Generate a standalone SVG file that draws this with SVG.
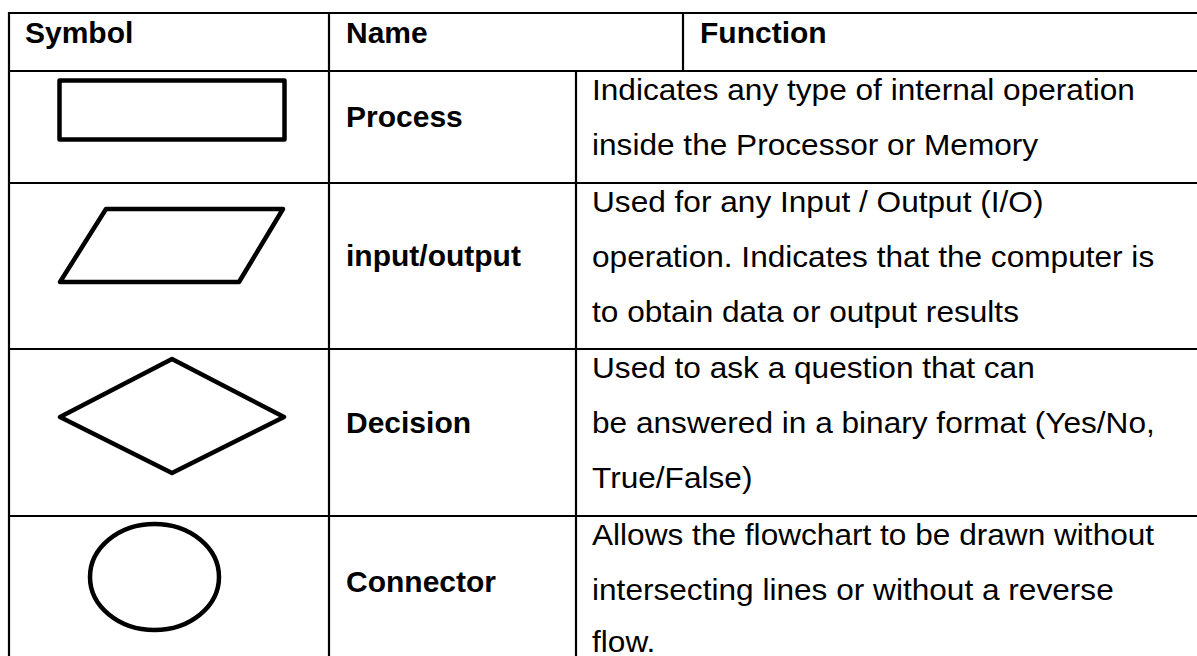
<svg xmlns="http://www.w3.org/2000/svg" width="1197" height="656" viewBox="0 0 1197 656">
  <style>
    .grid { stroke: #000; stroke-width: 2.2; fill: none; }
    .sym { stroke: #000; stroke-width: 4.5; fill: none; stroke-linejoin: round; }
    .hd, .nm { font-family: "Liberation Sans", Arial, sans-serif; font-weight: bold; font-size: 30px; fill: #000; }
    .fn { font-family: "Liberation Sans", Arial, sans-serif; font-size: 29px; fill: #000; }
  </style>
  <rect width="1197" height="656" fill="#fff"/>

  <!-- table grid -->
  <g id="grid">
    <line class="grid" x1="9" y1="13" x2="1200" y2="13"/>
    <line class="grid" x1="9" y1="71" x2="1200" y2="71"/>
    <line class="grid" x1="9" y1="183" x2="1200" y2="183"/>
    <line class="grid" x1="9" y1="349" x2="1200" y2="349"/>
    <line class="grid" x1="9" y1="516" x2="1200" y2="516"/>
    <line class="grid" x1="9" y1="12" x2="9" y2="660"/>
    <line class="grid" x1="329" y1="12" x2="329" y2="660"/>
    <line class="grid" x1="683" y1="12" x2="683" y2="71"/>
    <line class="grid" x1="576" y1="71" x2="576" y2="660"/>
  </g>

  <!-- header row -->
  <g id="header">
    <text class="hd" x="25" y="43">Symbol</text>
    <text class="hd" x="346" y="43">Name</text>
    <text class="hd" x="700" y="43">Function</text>
  </g>

  <!-- process -->
  <g id="row-process">
    <rect class="sym" x="59.5" y="80.5" width="225" height="59"/>
    <text class="nm" x="346" y="127">Process</text>
    <g class="fn" transform="translate(592 0) scale(1.09 1)">
      <text x="0" y="100">Indicates any type of internal operation</text>
      <text x="0" y="155">inside the Processor or Memory</text>
    </g>
  </g>

  <!-- input/output -->
  <g id="row-io">
    <polygon class="sym" points="106,209 283,209 239,282 60,282"/>
    <text class="nm" x="346" y="266">input/output</text>
    <g class="fn" transform="translate(592 0) scale(1.09 1)">
      <text x="0" y="212">Used for any Input / Output (I/O)</text>
      <text x="0" y="267">operation. Indicates that the computer is</text>
      <text x="0" y="322">to obtain data or output results</text>
    </g>
  </g>

  <!-- decision -->
  <g id="row-decision">
    <polygon class="sym" points="172,359 284,417 172,473 60,417"/>
    <text class="nm" x="346" y="433">Decision</text>
    <g class="fn" transform="translate(592 0) scale(1.09 1)">
      <text x="0" y="378">Used to ask a question that can</text>
      <text x="0" y="433">be answered in a binary format (Yes/No,</text>
      <text x="0" y="488">True/False)</text>
    </g>
  </g>

  <!-- connector -->
  <g id="row-connector">
    <ellipse class="sym" cx="154.5" cy="577" rx="64.5" ry="53"/>
    <text class="nm" x="346" y="592">Connector</text>
    <g class="fn" transform="translate(592 0) scale(1.09 1)">
      <text x="0" y="545">Allows the flowchart to be drawn without</text>
      <text x="0" y="600">intersecting lines or without a reverse</text>
      <text x="0" y="652">flow.</text>
    </g>
  </g>
</svg>
